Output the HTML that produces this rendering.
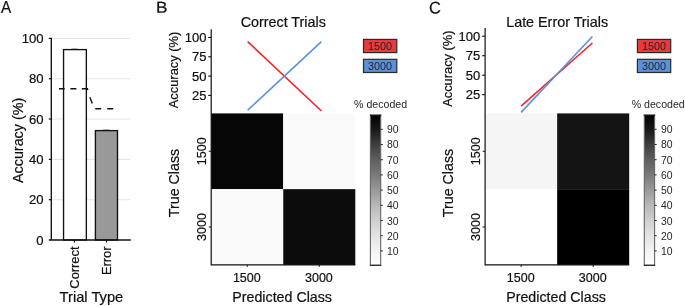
<!DOCTYPE html>
<html><head><meta charset="utf-8"><title>Figure</title>
<style>html,body{margin:0;padding:0;background:#fff}svg{display:block}text{font-family:"Liberation Sans", Arial, Helvetica, sans-serif;fill:#111;stroke:#111;stroke-width:0.2px}text.s{fill:#262626;stroke:none}</style>
</head><body>
<svg width="685" height="306" viewBox="0 0 685 306">
<defs><linearGradient id="cb" x1="0" y1="0" x2="0" y2="1"><stop offset="0.0000" stop-color="#020202"/><stop offset="0.0939" stop-color="#181818"/><stop offset="0.1952" stop-color="#3e3e3e"/><stop offset="0.2965" stop-color="#5e5e5e"/><stop offset="0.3977" stop-color="#7a7a7a"/><stop offset="0.4990" stop-color="#999999"/><stop offset="0.6003" stop-color="#b8b8b8"/><stop offset="0.7015" stop-color="#d0d0d0"/><stop offset="0.8028" stop-color="#e3e3e3"/><stop offset="0.9041" stop-color="#f3f3f3"/><stop offset="1.0000" stop-color="#fefefe"/></linearGradient></defs>
<rect width="685" height="306" fill="#fff"/>
<text transform="translate(1.00 13.10) scale(0.960 1)" font-size="15.9" text-anchor="start">A</text>
<line x1="51.3" x2="130.2" y1="199.68" y2="199.68" stroke="#e5e5e5" stroke-width="1.05"/>
<line x1="51.3" x2="130.2" y1="159.36" y2="159.36" stroke="#e5e5e5" stroke-width="1.05"/>
<line x1="51.3" x2="130.2" y1="119.04" y2="119.04" stroke="#e5e5e5" stroke-width="1.05"/>
<line x1="51.3" x2="130.2" y1="78.72" y2="78.72" stroke="#e5e5e5" stroke-width="1.05"/>
<line x1="51.3" x2="130.2" y1="38.40" y2="38.40" stroke="#e5e5e5" stroke-width="1.05"/>
<rect x="63.55" y="49.60" width="22.8" height="190.40" fill="#fff" stroke="#111" stroke-width="1.35"/>
<rect x="95.4" y="130.60" width="22.1" height="109.40" fill="#999" stroke="#111" stroke-width="1.35"/>
<path d="M71.5 49.2H77.7M103 130.2H109.5" stroke="#111" stroke-width="0.8"/>
<path d="M48.8 38.40 H51.3 V240.00" fill="none" stroke="#111" stroke-width="1.35"/>
<line x1="48.8" x2="130.8" y1="240.00" y2="240.00" stroke="#111" stroke-width="1.4"/>
<path d="M74.4 240V242.4M106.5 240V242.4" stroke="#111" stroke-width="1.2"/>
<line x1="48.8" x2="51.3" y1="199.68" y2="199.68" stroke="#111" stroke-width="1.2"/>
<line x1="48.8" x2="51.3" y1="159.36" y2="159.36" stroke="#111" stroke-width="1.2"/>
<line x1="48.8" x2="51.3" y1="119.04" y2="119.04" stroke="#111" stroke-width="1.2"/>
<line x1="48.8" x2="51.3" y1="78.72" y2="78.72" stroke="#111" stroke-width="1.2"/>
<text transform="translate(43.60 244.50) scale(1.050 1)" font-size="12.5" text-anchor="end">0</text>
<text transform="translate(43.60 204.18) scale(1.050 1)" font-size="12.5" text-anchor="end">20</text>
<text transform="translate(43.60 163.86) scale(1.050 1)" font-size="12.5" text-anchor="end">40</text>
<text transform="translate(43.60 123.54) scale(1.050 1)" font-size="12.5" text-anchor="end">60</text>
<text transform="translate(43.60 83.22) scale(1.050 1)" font-size="12.5" text-anchor="end">80</text>
<text transform="translate(43.60 42.90) scale(1.050 1)" font-size="12.5" text-anchor="end">100</text>
<path d="M59 88.8H64.7M70.4 88.8H76.4M81.8 88.8H87.4L87.9 90M89.9 97.2L92.3 103.4M95.2 108.8H101.2M107.2 108.8H113.2" fill="none" stroke="#111" stroke-width="1.4"/>
<text transform="translate(22.70 140.40) rotate(-90) scale(1.025 1)" font-size="14" text-anchor="middle">Accuracy (%)</text>
<text transform="translate(79.40 246.50) rotate(-90) scale(1.030 1)" font-size="12.5" text-anchor="end">Correct</text>
<text transform="translate(111.20 246.50) rotate(-90) scale(1.030 1)" font-size="12.5" text-anchor="end">Error</text>
<text transform="translate(91.40 302.00) scale(1.050 1)" font-size="14" text-anchor="middle">Trial Type</text>
<text transform="translate(156.00 12.80) rotate(0.05) scale(1.080 1)" font-size="15.9" text-anchor="start">B</text>
<text transform="translate(283.25 26.90) scale(1.025 1)" font-size="14" text-anchor="middle">Correct Trials</text>
<rect x="211.20" y="113.40" width="72.05" height="75.75" fill="#060606"/>
<rect x="283.25" y="113.40" width="72.05" height="75.75" fill="#fafafa"/>
<rect x="211.20" y="189.15" width="72.05" height="75.75" fill="#fafafa"/>
<rect x="283.25" y="189.15" width="72.05" height="75.75" fill="#0c0c0c"/>
<line x1="247.70" y1="41.60" x2="321.40" y2="111.00" stroke="#f5222b" stroke-width="1.6"/>
<line x1="247.70" y1="110.20" x2="321.40" y2="41.60" stroke="#5c93d8" stroke-width="1.6"/>
<path d="M211.20 29.20 V264.90 H355.30" fill="none" stroke="#111" stroke-width="1.2"/>
<line x1="208.20" x2="211.20" y1="37.50" y2="37.50" stroke="#111" stroke-width="1.1"/>
<text transform="translate(206.40 42.00) scale(1.040 1)" font-size="12.5" text-anchor="end">100</text>
<line x1="208.20" x2="211.20" y1="56.80" y2="56.80" stroke="#111" stroke-width="1.1"/>
<text transform="translate(206.40 61.30) scale(1.040 1)" font-size="12.5" text-anchor="end">75</text>
<line x1="208.20" x2="211.20" y1="76.10" y2="76.10" stroke="#111" stroke-width="1.1"/>
<text transform="translate(206.40 80.60) scale(1.040 1)" font-size="12.5" text-anchor="end">50</text>
<line x1="208.20" x2="211.20" y1="95.40" y2="95.40" stroke="#111" stroke-width="1.1"/>
<text transform="translate(206.40 99.90) scale(1.040 1)" font-size="12.5" text-anchor="end">25</text>
<text transform="translate(178.20 108.20) rotate(-90)" font-size="12.85" text-anchor="start">Accuracy (%)</text>
<line x1="208.80" x2="211.20" y1="151.28" y2="151.28" stroke="#111" stroke-width="1"/>
<line x1="247.22" x2="247.22" y1="264.90" y2="266.90" stroke="#111" stroke-width="1"/>
<text transform="translate(205.60 151.28) rotate(-90)" font-size="12.5" text-anchor="middle">1500</text>
<text transform="translate(246.82 282.20)" font-size="12.5" text-anchor="middle">1500</text>
<line x1="208.80" x2="211.20" y1="227.02" y2="227.02" stroke="#111" stroke-width="1"/>
<line x1="319.27" x2="319.27" y1="264.90" y2="266.90" stroke="#111" stroke-width="1"/>
<text transform="translate(205.60 227.02) rotate(-90)" font-size="12.5" text-anchor="middle">3000</text>
<text transform="translate(318.88 282.20)" font-size="12.5" text-anchor="middle">3000</text>
<text transform="translate(178.80 183.00) rotate(-90) scale(1.020 1)" font-size="14" text-anchor="middle">True Class</text>
<text transform="translate(282.15 301.90) scale(1.018 1)" font-size="14" text-anchor="middle">Predicted Class</text>
<rect x="363.50" y="39.4" width="33.3" height="13.2" fill="#e8393c" stroke="#2a2a2a" stroke-width="1.2"/>
<rect x="363.50" y="59.3" width="33.3" height="13.2" fill="#5b90d8" stroke="#2a2a2a" stroke-width="1.2"/>
<text class="s" transform="translate(380.10 49.90)" font-size="10.8" text-anchor="middle">1500</text>
<text class="s" transform="translate(380.10 69.80)" font-size="10.8" text-anchor="middle">3000</text>
<text class="s" transform="translate(354.10 107.50)" font-size="10.6" text-anchor="start">% decoded</text>
<rect x="370.40" y="115.20" width="10.3" height="150.10" fill="url(#cb)" stroke="#666" stroke-width="1.1"/>
<path d="M369.85 265.30H381.25" stroke="#2a2a2a" stroke-width="1.2"/>
<path d="M369.85 115.20H381.25" stroke="#000" stroke-width="1.1"/>
<line x1="380.70" x2="382.80" y1="250.90" y2="250.90" stroke="#111" stroke-width="0.9"/>
<text class="s" transform="translate(387.00 255.30)" font-size="10.4" text-anchor="start">10</text>
<line x1="380.70" x2="382.80" y1="235.70" y2="235.70" stroke="#111" stroke-width="0.9"/>
<text class="s" transform="translate(387.00 240.03)" font-size="10.4" text-anchor="start">20</text>
<line x1="380.70" x2="382.80" y1="220.50" y2="220.50" stroke="#111" stroke-width="0.9"/>
<text class="s" transform="translate(387.00 224.75)" font-size="10.4" text-anchor="start">30</text>
<line x1="380.70" x2="382.80" y1="205.30" y2="205.30" stroke="#111" stroke-width="0.9"/>
<text class="s" transform="translate(387.00 209.48)" font-size="10.4" text-anchor="start">40</text>
<line x1="380.70" x2="382.80" y1="190.10" y2="190.10" stroke="#111" stroke-width="0.9"/>
<text class="s" transform="translate(387.00 194.20)" font-size="10.4" text-anchor="start">50</text>
<line x1="380.70" x2="382.80" y1="174.90" y2="174.90" stroke="#111" stroke-width="0.9"/>
<text class="s" transform="translate(387.00 178.93)" font-size="10.4" text-anchor="start">60</text>
<line x1="380.70" x2="382.80" y1="159.70" y2="159.70" stroke="#111" stroke-width="0.9"/>
<text class="s" transform="translate(387.00 163.65)" font-size="10.4" text-anchor="start">70</text>
<line x1="380.70" x2="382.80" y1="144.50" y2="144.50" stroke="#111" stroke-width="0.9"/>
<text class="s" transform="translate(387.00 148.38)" font-size="10.4" text-anchor="start">80</text>
<line x1="380.70" x2="382.80" y1="129.30" y2="129.30" stroke="#111" stroke-width="0.9"/>
<text class="s" transform="translate(387.00 133.10)" font-size="10.4" text-anchor="start">90</text>
<text transform="translate(429.10 13.50) rotate(0.05) scale(0.970 1)" font-size="17.0" text-anchor="start">C</text>
<text transform="translate(557.15 26.90) scale(1.025 1)" font-size="14" text-anchor="middle">Late Error Trials</text>
<rect x="485.10" y="113.40" width="72.05" height="75.75" fill="#f5f5f5"/>
<rect x="557.15" y="113.40" width="72.05" height="75.75" fill="#141414"/>
<rect x="485.10" y="189.15" width="72.05" height="75.75" fill="#ffffff"/>
<rect x="557.15" y="189.15" width="72.05" height="75.75" fill="#000000"/>
<line x1="521.10" y1="106.20" x2="592.40" y2="43.00" stroke="#f5222b" stroke-width="1.6"/>
<line x1="521.10" y1="112.40" x2="592.40" y2="36.50" stroke="#5c93d8" stroke-width="1.6"/>
<path d="M485.10 27.90 V264.90 H629.20" fill="none" stroke="#111" stroke-width="1.2"/>
<line x1="482.10" x2="485.10" y1="36.20" y2="36.20" stroke="#111" stroke-width="1.1"/>
<text transform="translate(480.30 40.70) scale(1.040 1)" font-size="12.5" text-anchor="end">100</text>
<line x1="482.10" x2="485.10" y1="55.70" y2="55.70" stroke="#111" stroke-width="1.1"/>
<text transform="translate(480.30 60.20) scale(1.040 1)" font-size="12.5" text-anchor="end">75</text>
<line x1="482.10" x2="485.10" y1="75.20" y2="75.20" stroke="#111" stroke-width="1.1"/>
<text transform="translate(480.30 79.70) scale(1.040 1)" font-size="12.5" text-anchor="end">50</text>
<line x1="482.10" x2="485.10" y1="94.60" y2="94.60" stroke="#111" stroke-width="1.1"/>
<text transform="translate(480.30 99.10) scale(1.040 1)" font-size="12.5" text-anchor="end">25</text>
<text transform="translate(452.10 106.80) rotate(-90)" font-size="12.85" text-anchor="start">Accuracy (%)</text>
<line x1="482.70" x2="485.10" y1="151.28" y2="151.28" stroke="#111" stroke-width="1"/>
<line x1="521.12" x2="521.12" y1="264.90" y2="266.90" stroke="#111" stroke-width="1"/>
<text transform="translate(479.50 151.28) rotate(-90)" font-size="12.5" text-anchor="middle">1500</text>
<text transform="translate(520.73 282.20)" font-size="12.5" text-anchor="middle">1500</text>
<line x1="482.70" x2="485.10" y1="227.02" y2="227.02" stroke="#111" stroke-width="1"/>
<line x1="593.18" x2="593.18" y1="264.90" y2="266.90" stroke="#111" stroke-width="1"/>
<text transform="translate(479.50 227.02) rotate(-90)" font-size="12.5" text-anchor="middle">3000</text>
<text transform="translate(592.78 282.20)" font-size="12.5" text-anchor="middle">3000</text>
<text transform="translate(452.70 183.00) rotate(-90) scale(1.020 1)" font-size="14" text-anchor="middle">True Class</text>
<text transform="translate(556.05 301.90) scale(1.018 1)" font-size="14" text-anchor="middle">Predicted Class</text>
<rect x="637.40" y="39.4" width="33.3" height="13.2" fill="#e8393c" stroke="#2a2a2a" stroke-width="1.2"/>
<rect x="637.40" y="59.3" width="33.3" height="13.2" fill="#5b90d8" stroke="#2a2a2a" stroke-width="1.2"/>
<text class="s" transform="translate(654.00 49.90)" font-size="10.8" text-anchor="middle">1500</text>
<text class="s" transform="translate(654.00 69.80)" font-size="10.8" text-anchor="middle">3000</text>
<text class="s" transform="translate(631.70 107.50)" font-size="10.6" text-anchor="start">% decoded</text>
<rect x="644.30" y="115.20" width="10.3" height="150.10" fill="url(#cb)" stroke="#666" stroke-width="1.1"/>
<path d="M643.75 265.30H655.15" stroke="#2a2a2a" stroke-width="1.2"/>
<path d="M643.75 115.20H655.15" stroke="#000" stroke-width="1.1"/>
<line x1="654.60" x2="656.70" y1="250.90" y2="250.90" stroke="#111" stroke-width="0.9"/>
<text class="s" transform="translate(660.90 255.30)" font-size="10.4" text-anchor="start">10</text>
<line x1="654.60" x2="656.70" y1="235.70" y2="235.70" stroke="#111" stroke-width="0.9"/>
<text class="s" transform="translate(660.90 240.03)" font-size="10.4" text-anchor="start">20</text>
<line x1="654.60" x2="656.70" y1="220.50" y2="220.50" stroke="#111" stroke-width="0.9"/>
<text class="s" transform="translate(660.90 224.75)" font-size="10.4" text-anchor="start">30</text>
<line x1="654.60" x2="656.70" y1="205.30" y2="205.30" stroke="#111" stroke-width="0.9"/>
<text class="s" transform="translate(660.90 209.48)" font-size="10.4" text-anchor="start">40</text>
<line x1="654.60" x2="656.70" y1="190.10" y2="190.10" stroke="#111" stroke-width="0.9"/>
<text class="s" transform="translate(660.90 194.20)" font-size="10.4" text-anchor="start">50</text>
<line x1="654.60" x2="656.70" y1="174.90" y2="174.90" stroke="#111" stroke-width="0.9"/>
<text class="s" transform="translate(660.90 178.93)" font-size="10.4" text-anchor="start">60</text>
<line x1="654.60" x2="656.70" y1="159.70" y2="159.70" stroke="#111" stroke-width="0.9"/>
<text class="s" transform="translate(660.90 163.65)" font-size="10.4" text-anchor="start">70</text>
<line x1="654.60" x2="656.70" y1="144.50" y2="144.50" stroke="#111" stroke-width="0.9"/>
<text class="s" transform="translate(660.90 148.38)" font-size="10.4" text-anchor="start">80</text>
<line x1="654.60" x2="656.70" y1="129.30" y2="129.30" stroke="#111" stroke-width="0.9"/>
<text class="s" transform="translate(660.90 133.10)" font-size="10.4" text-anchor="start">90</text>
</svg></body></html>
